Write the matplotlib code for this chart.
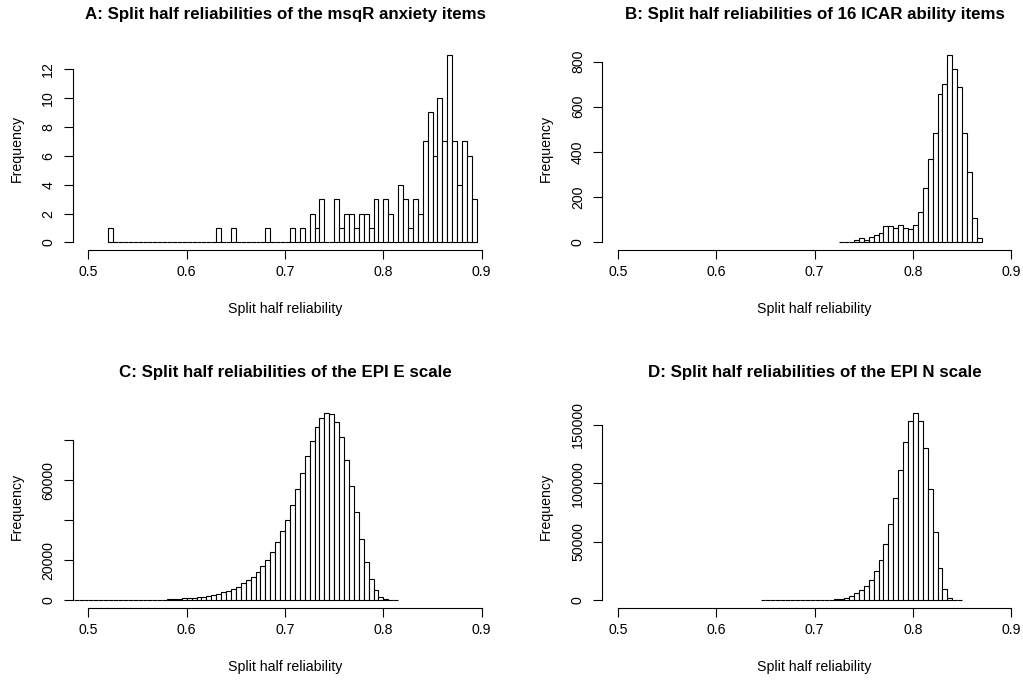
import matplotlib
matplotlib.use('Agg')
import matplotlib.pyplot as plt
import numpy as np

# ---------------- data ----------------
bin_width = 0.005

a_start = 0.52
a_counts = [1, 0, 0, 0, 0, 0, 0, 0, 0, 0,
            0, 0, 0, 0, 0, 0, 0, 0, 0, 0,
            0, 0, 1, 0, 0, 1, 0, 0, 0, 0,
            0, 0, 1, 0, 0, 0, 0, 1, 0, 1,
            0, 2, 1, 3, 0, 0, 3, 1, 2, 2,
            1, 2, 2, 1, 3, 0, 3, 2, 0, 4,
            3, 1, 3, 2, 7, 9, 6, 10, 7, 13,
            7, 4, 7, 6, 3]

b_start = 0.725
b_counts = [2, 3, 4, 12, 18, 13, 24, 31, 44, 71,
            75, 62, 78, 63, 60, 76, 133, 239, 370, 486,
            657, 700, 831, 767, 689, 484, 311, 108, 21]

c_start = 0.485
c_counts = [1, 1, 2, 3, 4, 6, 10, 14, 20, 30,
            40, 60, 80, 110, 150, 200, 260, 330, 415, 500,
            665, 830, 1000, 1160, 1330, 1500, 1830, 2160, 2660, 3160,
            3990, 4655, 5820, 6980, 8810, 10140, 11970, 14460, 17290, 20280,
            24270, 29100, 34500, 40400, 47880, 55690, 63670, 72320, 79800, 86450,
            91440, 93930, 93430, 89280, 81460, 70320, 57360, 44060, 30760, 19290,
            10640, 4990, 1660, 665, 300, 100]

d_start = 0.645
d_counts = [1, 1, 2, 3, 5, 8, 12, 20, 30, 50,
            80, 120, 200, 300, 570, 850, 1420, 2280, 3700, 5980,
            8700, 12520, 17650, 25050, 34900, 48250, 65190, 87100, 111300, 135500,
            152860, 160260, 152860, 130090, 95360, 58350, 27610, 9680, 2280, 300,
            50]

titles = ["A: Split half reliabilities of the msqR anxiety items",
          "B: Split half reliabilities of 16 ICAR ability items",
          "C: Split half reliabilities of the EPI E scale",
          "D: Split half reliabilities of the EPI N scale"]

x_ticks = [0.5, 0.6, 0.7, 0.8, 0.9]
x_tick_labels = ["0.5", "0.6", "0.7", "0.8", "0.9"]

a_yticks = [0, 2, 4, 6, 8, 10, 12]
a_yticklabels = ["0", "2", "4", "6", "8", "10", "12"]
b_yticks = [0, 200, 400, 600, 800]
b_yticklabels = ["0", "200", "400", "600", "800"]
c_yticks = [0, 20000, 40000, 60000, 80000]
c_yticklabels = ["0", "20000", "", "60000", ""]
d_yticks = [0, 50000, 100000, 150000]
d_yticklabels = ["0", "50000", "100000", "150000"]

x_label = "Split half reliability"
y_label = "Frequency"

# ---------------- figure ----------------
plt.rcParams['font.family'] = ['Liberation Sans', 'DejaVu Sans']
W, H = 1023, 681
fig = plt.figure(figsize=(W / 100, H / 100), dpi=100)

ax_w, ax_h = 424.7, 203.0
positions = [(72.7, 47.0), (602.3, 47.0), (72.7, 405.0), (602.3, 405.0)]  # (left, top) px

panels = [(a_start, a_counts, a_yticks, a_yticklabels),
          (b_start, b_counts, b_yticks, b_yticklabels),
          (c_start, c_counts, c_yticks, c_yticklabels),
          (d_start, d_counts, d_yticks, d_yticklabels)]

for (left, top), (start, counts, yt, ytl), title in zip(positions, panels, titles):
    ax = fig.add_axes([left / W, 1 - (top + ax_h) / H, ax_w / W, ax_h / H])
    counts = np.array(counts, dtype=float)
    edges = start + bin_width * np.arange(len(counts))
    ax.bar(edges, counts, width=bin_width, align='edge', facecolor='white',
           edgecolor='black', linewidth=0.8)
    ymax = counts.max()
    ax.set_ylim(-0.04 * ymax, 1.04 * ymax)
    ax.set_xlim(0.5 - 0.016, 0.9 + 0.016)

    for s in ('top', 'right'):
        ax.spines[s].set_visible(False)
    ax.spines['left'].set_bounds(yt[0], yt[-1])
    ax.spines['bottom'].set_bounds(x_ticks[0], x_ticks[-1])
    for s in ('left', 'bottom'):
        ax.spines[s].set_linewidth(0.8)

    ax.set_xticks(x_ticks)
    ax.set_xticklabels(x_tick_labels)
    ax.set_yticks(yt)
    ax.set_yticklabels(ytl, rotation=90, va='center')
    ax.tick_params(axis='both', direction='out', length=6.5, width=0.8,
                   labelsize=10.2, colors='black')
    ax.tick_params(axis='x', pad=4)
    ax.tick_params(axis='y', pad=6)

    ax.set_xlabel(x_label, fontsize=10.2, va='center')
    ax.xaxis.set_label_coords(0.5, -59.5 / ax_h)
    ax.set_ylabel(y_label, fontsize=10.2, va='center')
    ax.yaxis.set_label_coords(-56.0 / ax_w, 0.5)

    ax.text(0.5, 1 + 33.0 / ax_h, title, transform=ax.transAxes,
            ha='center', va='center', fontsize=12.2, fontweight='bold')

fig.savefig('out.png', dpi=100)
